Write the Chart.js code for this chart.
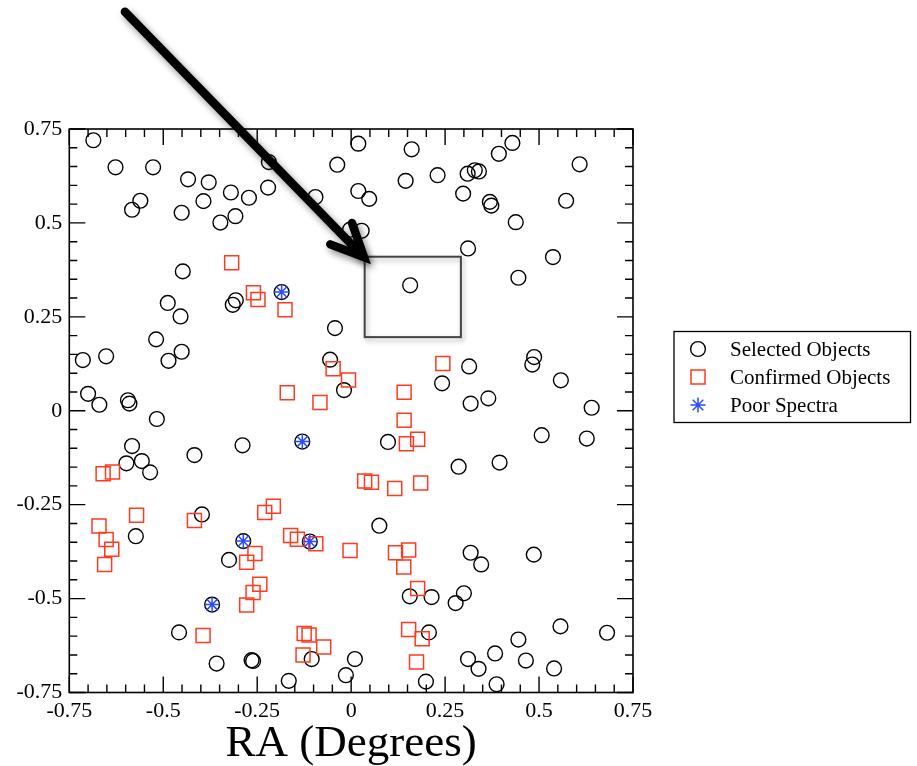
<!DOCTYPE html>
<html><head><meta charset="utf-8">
<script src="https://cdn.jsdelivr.net/npm/chart.js@4/dist/chart.umd.min.js"></script>
<style>html,body{margin:0;padding:0;background:#fff}#c{display:block}</style>
</head><body>
<canvas id="c" width="917" height="766"></canvas>
<script>
// ---- data (RA, Dec in degrees) ----
const selectedObjects = [
  [-0.686,0.720],[-0.627,0.648],[-0.527,0.648],[-0.434,0.616],[-0.379,0.608],[-0.320,0.581],[-0.272,0.567],
  [-0.561,0.559],[-0.583,0.535],[-0.393,0.558],[-0.451,0.527],[-0.348,0.501],[-0.308,0.518],[-0.448,0.371],
  [-0.488,0.287],[-0.454,0.251],[-0.307,0.294],[-0.315,0.282],[-0.519,0.190],[-0.451,0.157],[-0.486,0.133],
  [-0.714,0.135],[-0.652,0.145],[-0.700,0.045],[-0.670,0.016],[-0.594,0.028],[-0.590,0.019],[-0.517,-0.022],
  [0.019,0.711],[0.161,0.696],[-0.037,0.655],[-0.219,0.662],[-0.221,0.594],[-0.095,0.569],[0.019,0.585],
  [0.048,0.564],[0.145,0.612],[0.230,0.627],[-0.003,0.482],[0.028,0.479],[0.157,0.334],[-0.043,0.220],
  [-0.056,0.136],[-0.019,0.055],[0.242,0.073],
  [0.429,0.713],[0.393,0.684],[0.310,0.631],[0.329,0.640],[0.340,0.637],[0.608,0.656],[0.298,0.578],
  [0.369,0.556],[0.373,0.546],[0.572,0.559],[0.438,0.502],[0.311,0.432],[0.537,0.409],[0.445,0.354],
  [0.314,0.118],[0.487,0.143],[0.482,0.123],[0.558,0.081],[0.318,0.019],[0.365,0.033],[0.640,0.008],
  [-0.289,-0.092],[-0.417,-0.118],[-0.583,-0.094],[-0.598,-0.140],[-0.557,-0.134],[-0.535,-0.164],
  [-0.397,-0.276],[-0.573,-0.334],[-0.325,-0.397],[-0.458,-0.590],[-0.358,-0.673],[-0.265,-0.664],[-0.261,-0.666],
  [0.098,-0.083],[0.075,-0.306],[0.156,-0.494],[0.214,-0.496],[-0.105,-0.661],[0.010,-0.661],[-0.014,-0.704],
  [-0.166,-0.719],[0.199,-0.721],[0.207,-0.590],
  [0.507,-0.065],[0.627,-0.074],[0.286,-0.149],[0.395,-0.138],[0.318,-0.378],[0.346,-0.409],[0.486,-0.383],
  [0.300,-0.486],[0.278,-0.512],[0.557,-0.574],[0.681,-0.591],[0.445,-0.609],[0.383,-0.646],[0.311,-0.661],
  [0.339,-0.687],[0.465,-0.665],[0.540,-0.686],[0.387,-0.728],
  [-0.185,0.316],[-0.130,-0.082],[-0.287,-0.347],[-0.110,-0.348],[-0.370,-0.516]
];
const confirmedObjects = [
  [-0.318,0.394],[-0.260,0.314],[-0.248,0.296],[-0.176,0.269],[-0.048,0.112],[-0.007,0.082],[-0.170,0.048],
  [-0.083,0.022],[0.141,0.049],[0.141,-0.025],[0.244,0.126],
  [-0.660,-0.168],[-0.635,-0.163],[-0.571,-0.278],[-0.417,-0.292],[-0.671,-0.307],[-0.652,-0.343],[-0.637,-0.369],
  [-0.656,-0.409],[-0.278,-0.403],[-0.256,-0.380],[-0.278,-0.517],[-0.261,-0.484],[-0.243,-0.462],[-0.394,-0.598],
  [0.147,-0.088],[0.177,-0.076],[0.036,-0.187],[0.054,-0.190],[0.116,-0.207],[0.185,-0.192],[-0.207,-0.254],
  [-0.230,-0.271],[-0.161,-0.332],[-0.143,-0.342],[-0.094,-0.354],[-0.003,-0.372],[0.118,-0.378],[0.153,-0.371],
  [0.140,-0.416],[0.177,-0.473],[-0.125,-0.593],[-0.112,-0.597],[-0.073,-0.629],[-0.128,-0.650],[0.153,-0.582],
  [0.189,-0.607],[0.174,-0.669]
];
const poorSpectra = [[-0.185,0.316],[-0.130,-0.082],[-0.287,-0.347],[-0.110,-0.348],[-0.370,-0.516]];
const seriesNames = ['Selected Objects','Confirmed Objects','Poor Spectra'];
const axisTickValues = [-0.75,-0.5,-0.25,0,0.25,0.5,0.75];
const xAxisTitle = 'RA (Degrees)';
// highlighted region and arrow pointing at it (data coords)
const zoomBoxX = [0.036,0.292];
const zoomBoxY = [0.196,0.410];
const arrowTail = [-0.602,1.062];
const arrowHead = [0.034,0.409];

const FONT = '"Liberation Serif","Times New Roman",serif';
const COLORS = ['#000000','#ff3a1f','#2a4bff'];
const toXY = a => a.map(p => ({x:p[0], y:p[1]}));

const decorPlugin = {
  id:'decor',
  afterDatasetsDraw(chart){
    const {ctx, chartArea:a, scales:{x,y}} = chart;
    ctx.save();
    // frame
    ctx.strokeStyle='#000'; ctx.lineWidth=1.6;
    ctx.strokeRect(a.left,a.top,a.right-a.left,a.bottom-a.top);
    // inward ticks on all sides
    ctx.lineWidth=1.4;
    ctx.beginPath();
    for(let i=-15;i<=15;i++){
      const v=i*0.05, len=(i%5===0)?16:8;
      const px=x.getPixelForValue(v), py=y.getPixelForValue(v);
      ctx.moveTo(px,a.bottom); ctx.lineTo(px,a.bottom-len);
      ctx.moveTo(px,a.top); ctx.lineTo(px,a.top+len);
      ctx.moveTo(a.left,py); ctx.lineTo(a.left+len,py);
      ctx.moveTo(a.right,py); ctx.lineTo(a.right-len,py);
    }
    ctx.stroke();
    // zoom box
    const bx0=x.getPixelForValue(zoomBoxX[0]), bx1=x.getPixelForValue(zoomBoxX[1]);
    const by0=y.getPixelForValue(zoomBoxY[1]), by1=y.getPixelForValue(zoomBoxY[0]);
    ctx.shadowColor='rgba(0,0,0,0.3)'; ctx.shadowBlur=5; ctx.shadowOffsetX=2; ctx.shadowOffsetY=3;
    ctx.strokeStyle='#444'; ctx.lineWidth=2;
    ctx.strokeRect(bx0,by0,bx1-bx0,by1-by0);
    // arrow
    const tx=x.getPixelForValue(arrowTail[0]), ty=y.getPixelForValue(arrowTail[1]);
    const hx=x.getPixelForValue(arrowHead[0]), hy=y.getPixelForValue(arrowHead[1]);
    const ang=Math.atan2(ty-hy,tx-hx), bl=36, spread=25*Math.PI/180;
    ctx.shadowColor='rgba(0,0,0,0.45)'; ctx.shadowBlur=7; ctx.shadowOffsetX=3; ctx.shadowOffsetY=4;
    ctx.strokeStyle='#000'; ctx.lineWidth=8.5; ctx.lineCap='round'; ctx.lineJoin='miter';
    ctx.beginPath();
    ctx.moveTo(tx,ty); ctx.lineTo(hx-3*Math.cos(ang+Math.PI),hy-3*Math.sin(ang+Math.PI));
    ctx.stroke();
    ctx.beginPath();
    ctx.moveTo(hx+bl*Math.cos(ang-spread),hy+bl*Math.sin(ang-spread));
    ctx.lineTo(hx,hy);
    ctx.lineTo(hx+bl*Math.cos(ang+spread),hy+bl*Math.sin(ang+spread));
    ctx.stroke();
    ctx.restore();
  },
  afterDraw(chart){
    // legend
    const ctx=chart.ctx;
    ctx.save();
    ctx.strokeStyle='#000'; ctx.lineWidth=1.3;
    ctx.strokeRect(674,331.5,236.5,91);
    const rows=[349,377,405];
    chart.data.datasets.forEach((ds,i)=>{
      ctx.strokeStyle=ds.borderColor; ctx.fillStyle='rgba(0,0,0,0)';
      ctx.lineWidth=ds.borderWidth;
      Chart.helpers.drawPoint(ctx,{pointStyle:ds.pointStyle,radius:ds.pointRadius,borderWidth:ds.borderWidth,rotation:0},698,rows[i]);
      ctx.fillStyle='#000'; ctx.font='21px '+FONT; ctx.textBaseline='middle'; ctx.textAlign='left';
      ctx.fillText(ds.label,730,rows[i]+1);
    });
    ctx.restore();
  }
};

const fmt = v => { const r=Math.round(v*100)/100; return axisTickValues.some(t=>Math.abs(t-r)<1e-9) ? String(r) : ''; };

new Chart(document.getElementById('c'),{
  type:'scatter',
  data:{datasets:[
    {label:seriesNames[0],data:toXY(selectedObjects),pointStyle:'circle',pointRadius:7.4,borderColor:COLORS[0],borderWidth:1.4,backgroundColor:'rgba(0,0,0,0)',order:2},
    {label:seriesNames[1],data:toXY(confirmedObjects),pointStyle:'rect',pointRadius:9.9,borderColor:COLORS[1],borderWidth:1.5,backgroundColor:'rgba(0,0,0,0)',order:1},
    {label:seriesNames[2],data:toXY(poorSpectra),pointStyle:'star',pointRadius:7.5,borderColor:COLORS[2],borderWidth:1.5,backgroundColor:'rgba(0,0,0,0)',order:0}
  ]},
  options:{
    responsive:false, animation:false, events:[],
    layout:{padding:{left:0,top:129,right:284,bottom:0}},
    plugins:{legend:{display:false},tooltip:{enabled:false}},
    scales:{
      x:{type:'linear',min:-0.75,max:0.75,
         ticks:{stepSize:0.25,color:'#000',font:{family:FONT,size:22},padding:6,maxRotation:0,autoSkip:false,callback:fmt},
         grid:{display:false,drawTicks:false},border:{display:false},
         title:{display:true,text:xAxisTitle,color:'#000',font:{family:FONT,size:45,lineHeight:1},padding:{top:0,bottom:-1}},
         afterFit(s){s.height=73.5;}},
      y:{type:'linear',min:-0.75,max:0.75,
         ticks:{stepSize:0.25,color:'#000',font:{family:FONT,size:22},padding:7,autoSkip:false,callback:fmt},
         grid:{display:false,drawTicks:false},border:{display:false},
         afterFit(s){s.width=69.3;}}
    }
  },
  plugins:[decorPlugin]
});
</script>
</body></html>
